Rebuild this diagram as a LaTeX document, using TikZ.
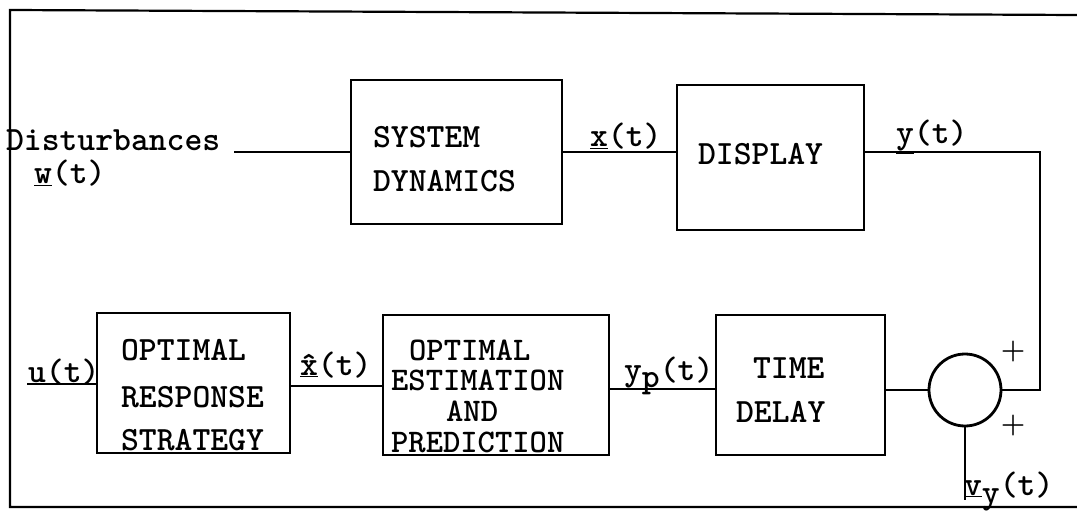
\documentclass[tikz,border=0pt]{standalone}
\begin{document}
\begin{tikzpicture}[x=1pt,y=-1pt,
  line width=2.2pt,
  blk/.style={draw, line width=2.2pt, inner sep=0pt},
  lbl/.style={inner sep=0pt, anchor=base west, font=\fontsize{34}{40}\selectfont\ttfamily\bfseries},
  est/.style={lbl, font=\fontsize{33}{38}\selectfont\ttfamily\bfseries},
  pm/.style={inner sep=0pt, font=\fontsize{28}{28}\selectfont\bfseries}]
\useasboundingbox (0,0) rectangle (1077,516);
\fill[white] (0,0) rectangle (1077,516);

% outer frame
\draw (1077,15) -- (10,10) -- (10,507) -- (1077,507);

% blocks
\node[blk, minimum width=211pt, minimum height=144pt] (sd) at (456.5,152) {};
\node[blk, minimum width=187pt, minimum height=145pt] (disp) at (770.5,157.5) {};
\node[blk, minimum width=193pt, minimum height=140pt] (ors) at (193.5,383) {};
\node[blk, minimum width=226pt, minimum height=140pt] (oep) at (496,385) {};
\node[blk, minimum width=169pt, minimum height=140pt] (td) at (800.5,385) {};
\node[draw, circle, line width=2.8pt, minimum size=72pt, inner sep=0pt] (sum) at (965,390) {};

% block texts
\node[lbl] (t1) at (372,148) {SYSTEM};
\node[lbl] (t2) at (372,192) {DYNAMICS};
\node[lbl] (t3) at (697,165) {DISPLAY};
\node[lbl] (t4) at (120,360) {OPTIMAL};
\node[lbl] (t5) at (120,407) {RESPONSE};
\node[lbl] (t6) at (120,450) {STRATEGY};
\node[est] (t7) at (408,360) {OPTIMAL};
\node[est] (t8) at (390,390) {ESTIMATION};
\node[est] (t9) at (445,421) {AND};
\node[est] (t10) at (390,452) {PREDICTION};
\node[lbl] (t11) at (752,378) {TIME};
\node[lbl] (t12) at (735,422) {DELAY};

% signal labels
\node[lbl] (dist) at (5,151) {Disturbances};
\node[lbl] (w) at (33,184) {\underline{w}(t)};
\node[lbl] (xl) at (589,147) {\underline{x}(t)};
\node[lbl] (yl) at (895,144) {\underline{y}(t)};
\node[lbl] (ul) at (27,382) {\underline{u}(t)};
\node[lbl] (xhat) at (299,375) {\underline{\^{x}}(t)};
\node[lbl] (ypl) at (623,380) {\underline{y}\raisebox{-7pt}{p}(t)};
\node[lbl] (vyl) at (963,495) {\underline{v}\raisebox{-8pt}{y}(t)};
\node[pm] (p1) at (1013,352) {+};
\node[pm] (p2) at (1013,426) {+};

% connectors
\coordinate (din) at (234,152);
\draw (din) -- (din -| sd.west);
\draw (sd.east) -- (sd.east -| disp.west);
\coordinate (yc) at (1040,152);
\draw (disp.east |- yc) -- (yc) -- (yc |- sum.east) -- (sum.east);
\draw (td.east |- sum.west) -- (sum.west);
\coordinate (vyend) at (965,500);
\draw (sum.south) -- (vyend);
\coordinate (ylev) at (0,389);
\draw (ylev -| oep.east) -- (ylev -| td.west);
\coordinate (xlev) at (0,386);
\draw (xlev -| ors.east) -- (xlev -| oep.west);
\coordinate (uend) at (27,384);
\draw (uend) -- (uend -| ors.west);
\end{tikzpicture}
\end{document}
